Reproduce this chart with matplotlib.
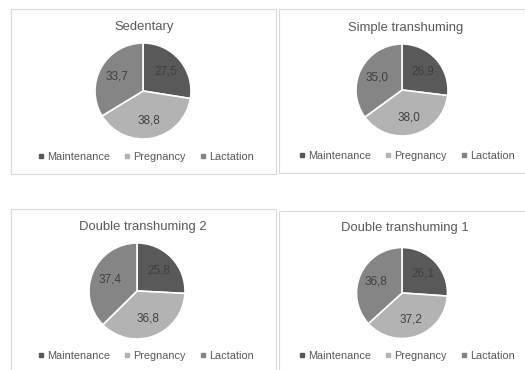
import matplotlib.pyplot as plt
import numpy as np
from matplotlib.lines import Line2D
from matplotlib.patches import Rectangle

plt.rcParams['font.family'] = ['Liberation Sans', 'DejaVu Sans']

# energy requirement shares (%) per farming system
categories = ["Maintenance", "Pregnancy", "Lactation"]
titles = ["Sedentary", "Simple transhuming", "Double transhuming 2", "Double transhuming 1"]
sedentary = [27.5, 38.8, 33.7]
simple_trans = [26.9, 38.0, 35.0]
double_trans2 = [25.8, 36.8, 37.4]
double_trans1 = [26.1, 37.2, 36.8]
series = [sedentary, simple_trans, double_trans2, double_trans1]

colors = ["#595959", "#b3b3b3", "#858585"]
text_col = "#595959"
label_col = "#404040"
border_col = "#d9d9d9"

W, H = 525, 370
fig = plt.figure(figsize=(W / 100, H / 100), dpi=100)

# panel layout in pixels: box (x0, y0, x1, y1), pie centre and radius, title y, legend centre
panels = [
    dict(box=(11, 9, 276, 174), c=(143, 91), r=48, tx=144, ty=27, lx=146, ly=157),
    dict(box=(279, 9, 530, 173), c=(402, 90), r=46, tx=406, ty=28, lx=407, ly=156),
    dict(box=(11, 209, 276, 375), c=(137, 291), r=48, tx=143, ty=227, lx=146, ly=356),
    dict(box=(279, 211, 530, 375), c=(402, 293), r=45.5, tx=405, ty=228, lx=407, ly=356),
]


def fx(x):
    return x / W


def fy(y):
    return 1 - y / H


for p, vals, title in zip(panels, series, titles):
    x0, y0, x1, y1 = p["box"]
    fig.patches.append(Rectangle((fx(x0), fy(y1)), fx(x1 - x0), (y1 - y0) / H,
                                 transform=fig.transFigure, fill=False,
                                 edgecolor=border_col, linewidth=0.8))

    cx, cy = p["c"]
    r = p["r"]
    ax = fig.add_axes([fx(cx - r), fy(cy + r), fx(2 * r), 2 * r / H])
    wedges, _ = ax.pie(vals, colors=colors, startangle=90, counterclock=False,
                       wedgeprops=dict(edgecolor="white", linewidth=1.2))
    ax.set_xlim(-1, 1)
    ax.set_ylim(-1, 1)
    ax.set_aspect("auto")

    for w, v in zip(wedges, vals):
        ang = np.deg2rad((w.theta1 + w.theta2) / 2)
        ax.text(0.62 * np.cos(ang), 0.62 * np.sin(ang), f"{v:.1f}".replace(".", ","),
                ha="center", va="center", fontsize=8.5, color=label_col)

    fig.text(fx(p["tx"]), fy(p["ty"]), title, ha="center", va="center",
             fontsize=9.4, color=text_col)

    handles = [Line2D([], [], marker="s", linestyle="", markersize=3.2,
                      markerfacecolor=c, markeredgecolor=c) for c in colors]
    fig.legend(handles, categories, loc="center", ncol=3,
               bbox_to_anchor=(fx(p["lx"]), fy(p["ly"])), frameon=False,
               fontsize=7.8, labelcolor=text_col, handlelength=0.5,
               handletextpad=0.35, columnspacing=1.3, borderpad=0, borderaxespad=0)

fig.savefig("out.png", dpi=100)
